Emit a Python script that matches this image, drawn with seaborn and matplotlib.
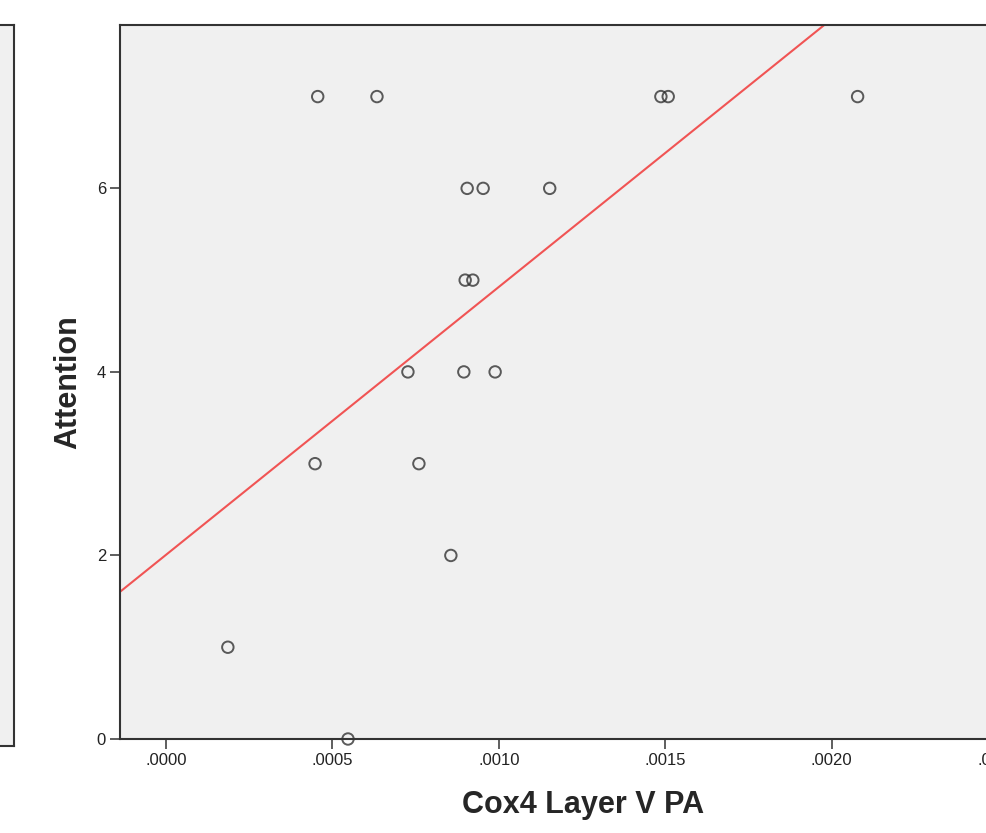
"""Scatter of Attention against Cox4 Layer V PA with a linear fit line (SPSS-style look)."""

import matplotlib
matplotlib.use("Agg")
import matplotlib.pyplot as plt
import pandas as pd
import seaborn as sns

# Values.
cox4_layer_v_pa = [
    0.000456, 0.000634, 0.001487, 0.001509, 0.002078,
    0.000905, 0.000953, 0.001153,
    0.000899, 0.000922,
    0.000727, 0.000895, 0.000989,
    0.000448, 0.000760,
    0.000856,
    0.000186,
    0.000547,
]
attention = [
    7, 7, 7, 7, 7,
    6, 6, 6,
    5, 5,
    4, 4, 4,
    3, 3,
    2,
    1,
    0,
]
x_ticks = [0.0, 0.0005, 0.0010, 0.0015, 0.0020, 0.0025]
x_tick_labels = [".0000", ".0005", ".0010", ".0015", ".0020", ".0025"]
y_ticks = [0, 2, 4, 6]

df = pd.DataFrame({"Cox4 Layer V PA": cox4_layer_v_pa, "Attention": attention})

sns.set_theme(style="white")
plt.rcParams["font.family"] = ["Liberation Sans", "DejaVu Sans"]

_BG = "#f0f0f0"
_EDGE = "#333333"
_FIT = "#f05454"

fig = plt.figure(figsize=(9.86, 8.33), dpi=100)

# Edge of the neighbouring panel, cut off at the left of the reference.
side = fig.add_axes([-0.5, 1 - 746 / 833, 0.5 + 14 / 986, (746 - 25) / 833])
side.set_facecolor(_BG)
side.set_xticks([])
side.set_yticks([])
for spine in side.spines.values():
    spine.set_color(_EDGE)
    spine.set_linewidth(1.5)

ax = fig.add_axes([120 / 986, 1 - 739 / 833, 926 / 986, 714 / 833])
ax.set_facecolor(_BG)
ax.set_xlim(-0.000138, 0.002644)
ax.set_ylim(0, 7.78)

sns.regplot(
    data=df, x="Cox4 Layer V PA", y="Attention", ax=ax,
    ci=None, truncate=False,
    scatter_kws=dict(s=68, facecolors="none", edgecolors=_EDGE, linewidths=1.4, clip_on=False, zorder=3),
    line_kws=dict(color=_FIT, linewidth=1.5, zorder=2),
)
ax.set_xlim(-0.000138, 0.002644)
ax.set_ylim(0, 7.78)

ax.set_xticks(x_ticks)
ax.set_xticklabels(x_tick_labels)
ax.set_yticks(y_ticks)
ax.tick_params(axis="both", direction="out", length=7, width=1.1, color=_EDGE,
               labelsize=12, labelcolor="#222222", pad=3, bottom=True, left=True)
for spine in ax.spines.values():
    spine.set_color(_EDGE)
    spine.set_linewidth(1.5)

ax.set_xlabel("Cox4 Layer V PA", fontsize=22, fontweight="bold", labelpad=16)
ax.set_ylabel("Attention", fontsize=22, fontweight="bold", labelpad=10)

fig.savefig("out.png", dpi=100)
